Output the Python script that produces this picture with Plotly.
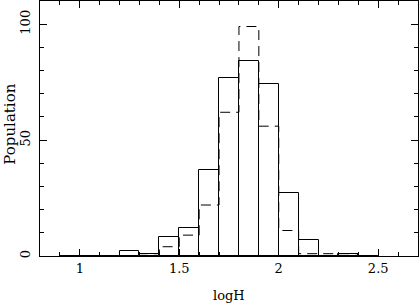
import plotly.graph_objects as go

bin_left = [0.9, 1.0, 1.1, 1.2, 1.3, 1.4, 1.5, 1.6, 1.7, 1.8, 1.9, 2.0, 2.1, 2.2, 2.3, 2.4]
solid_counts = [0, 0, 0, 2, 1, 8, 12, 37, 77, 84, 74, 27, 7, 0, 1, 0]
dashed_counts = [0, 0, 0, 0, 1, 4, 9, 22, 62, 99, 56, 11, 1, 1, 1, 0]
bin_width = 0.1

x_tickvals = [1, 1.5, 2, 2.5]
x_ticktext = ["1", "1.5", "2", "2.5"]
y_tickvals = [0, 50, 100]
y_ticktext = ["0", "50", "100"]

fig = go.Figure()
fig.add_trace(go.Bar(
    x=[b + bin_width / 2 for b in bin_left], y=solid_counts, width=bin_width,
    marker=dict(color="rgba(0,0,0,0)", line=dict(color="black", width=1)),
    showlegend=False, hoverinfo="skip",
))
step_x = bin_left + [bin_left[-1] + bin_width]
step_y = dashed_counts + [dashed_counts[-1]]
fig.add_trace(go.Scatter(
    x=step_x, y=step_y, mode="lines", line_shape="hv",
    line=dict(color="black", width=1, dash="10px,6px"), showlegend=False, hoverinfo="skip",
))
# invisible trace on the mirrored (top/right) axes so they are drawn
fig.add_trace(go.Scatter(x=[1.0], y=[0], xaxis="x2", yaxis="y2", mode="markers",
                         marker=dict(opacity=0), showlegend=False, hoverinfo="skip"))

serif = "DejaVu Serif, Liberation Serif, serif"
font = dict(family=serif, size=13, color="black")
tick_common = dict(ticks="inside", ticklen=7, tickcolor="black", showgrid=False, zeroline=False,
                   showline=True, linecolor="black", linewidth=1, automargin=False)
fig.update_layout(
    width=419, height=305,
    margin=dict(l=40, r=1, t=1, b=49),
    paper_bgcolor="white", plot_bgcolor="white",
    font=font, bargap=0,
    xaxis=dict(range=[0.8, 2.7], tickvals=x_tickvals, ticktext=x_ticktext, **tick_common,
               minor=dict(ticks="inside", ticklen=4, dtick=0.1, tick0=0, tickcolor="black", showgrid=False)),
    yaxis=dict(range=[0, 110], tickvals=y_tickvals, ticktext=y_ticktext, tickangle=-90,
               ticklabelstandoff=4, **tick_common,
               minor=dict(ticks="inside", ticklen=4, dtick=10, tick0=0, tickcolor="black", showgrid=False)),
    xaxis2=dict(range=[0.8, 2.7], tickvals=x_tickvals, showticklabels=False, overlaying="x",
                side="top", anchor="y2", **tick_common,
                minor=dict(ticks="inside", ticklen=4, dtick=0.1, tick0=0, tickcolor="black", showgrid=False)),
    yaxis2=dict(range=[0, 110], tickvals=y_tickvals, showticklabels=False, overlaying="y",
                side="right", anchor="x2", **tick_common,
                minor=dict(ticks="inside", ticklen=4, dtick=10, tick0=0, tickcolor="black", showgrid=False)),
    annotations=[
        dict(text="logH", xref="paper", yref="paper", x=0.5, y=0, yshift=-39,
             xanchor="center", yanchor="middle", showarrow=False, font=dict(family=serif, size=13)),
        dict(text="Population", xref="paper", yref="paper", x=0, y=0.515, xshift=-30,
             xanchor="center", yanchor="middle", textangle=-90, showarrow=False,
             font=dict(family=serif, size=15)),
    ],
)
fig.write_html("out.html", config={"displayModeBar": False},
               post_script="document.body.style.margin='0';document.body.style.overflow='hidden';")
